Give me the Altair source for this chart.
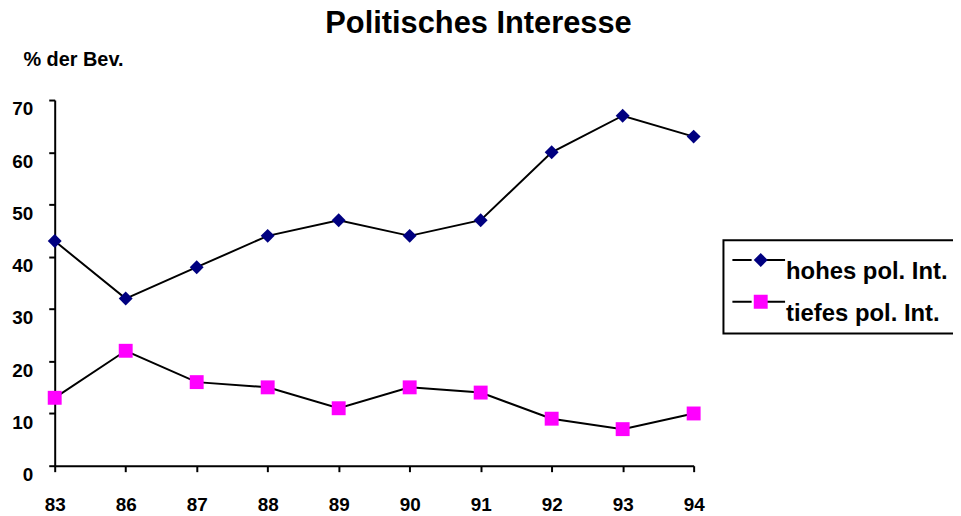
import altair as alt
import pandas as pd

years = ["83", "86", "87", "88", "89", "90", "91", "92", "93", "94"]
hohes = [43, 32, 38, 44, 47, 44, 47, 60, 67, 63]
tiefes = [13, 22, 16, 15, 11, 15, 14, 9, 7, 10]
series_names = ["hohes pol. Int.", "tiefes pol. Int."]
marker_colors = ["#000080", "#FF00FF"]
marker_shapes = ["diamond", "square"]
y_ticks = [0, 10, 20, 30, 40, 50, 60, 70]

rows = []
for yr, h, t in zip(years, hohes, tiefes):
    rows.append({"year": yr, "series": series_names[0], "value": h})
    rows.append({"year": yr, "series": series_names[1], "value": t})
df = pd.DataFrame(rows)

FONT = "Liberation Sans"
LEG_X, LEG_Y = 673, 141
LEG_COMMON = dict(title=None, orient="none", legendX=LEG_X, legendY=LEG_Y,
                  clipHeight=24, rowPadding=6, padding=8, labelOffset=0,
                  labelFont=FONT, labelFontSize=24, labelFontWeight="bold",
                  labelColor="black", labelBaseline="top", labelLimit=400)

x_enc = alt.X(
    "year:O", sort=years,
    scale=alt.Scale(type="point", padding=0),
    axis=alt.Axis(title=None, labelAngle=0, labelFont=FONT, labelFontSize=19,
                  labelFontWeight="bold", labelColor="black", labelBaseline="top",
                  labelPadding=24, tickSize=6, tickWidth=2, tickColor="black",
                  domainColor="black", domainWidth=2, grid=False),
)
y_enc = alt.Y(
    "value:Q",
    scale=alt.Scale(domain=[0, 70], nice=False, zero=True),
    axis=alt.Axis(values=y_ticks, title="% der Bev.", titleAngle=0, titleX=-32, titleY=-35,
                  titleAlign="left", titleBaseline="alphabetic", titleFont=FONT,
                  titleFontSize=20, titleFontWeight="bold", titleColor="black",
                  labelFont=FONT, labelFontSize=19, labelFontWeight="bold",
                  labelColor="black", labelBaseline="top", labelPadding=16,
                  tickSize=6, tickWidth=2, tickColor="black", domainColor="black",
                  domainWidth=2, grid=False),
)

lines = alt.Chart(df).mark_line(strokeWidth=2).encode(
    x=x_enc, y=y_enc,
    stroke=alt.Stroke(
        "series:N", sort=series_names,
        scale=alt.Scale(range=["black", "black"]),
        legend=alt.Legend(symbolType="M-1,0H-0.27M0.27,0H1", symbolSize=2809,
                          symbolStrokeWidth=2, symbolStrokeColor="black",
                          strokeColor="black", fillColor="white",
                          **LEG_COMMON),
    ),
)

point_legend = alt.Legend(symbolSize=196, symbolOffset=17.5, labelExpr="''",
                          **LEG_COMMON)

points = alt.Chart(df).transform_calculate(series2="datum.series").mark_point(
    filled=True, size=196, opacity=1
).encode(
    x=x_enc, y=y_enc,
    fill=alt.Fill("series2:N", sort=series_names,
                  scale=alt.Scale(domain=series_names, range=marker_colors),
                  legend=point_legend),
    shape=alt.Shape("series2:N", sort=series_names,
                    scale=alt.Scale(domain=series_names, range=marker_shapes),
                    legend=point_legend),
)

chart = alt.layer(lines, points).properties(
    width=643, height=368,
    autosize=alt.AutoSizeParams(type="none"),
    padding={"left": 47, "top": 91, "right": 261, "bottom": 50},
    background="white",
    title=alt.TitleParams("Politisches Interesse", font=FONT, fontSize=31,
                          fontWeight="bold", color="black", anchor="middle",
                          dx=105, offset=9),
).configure_view(stroke="transparent", strokeWidth=0).configure_legend(strokeWidth=2)

chart.save("out.html", embed_options={"renderer": "svg", "actions": False})
